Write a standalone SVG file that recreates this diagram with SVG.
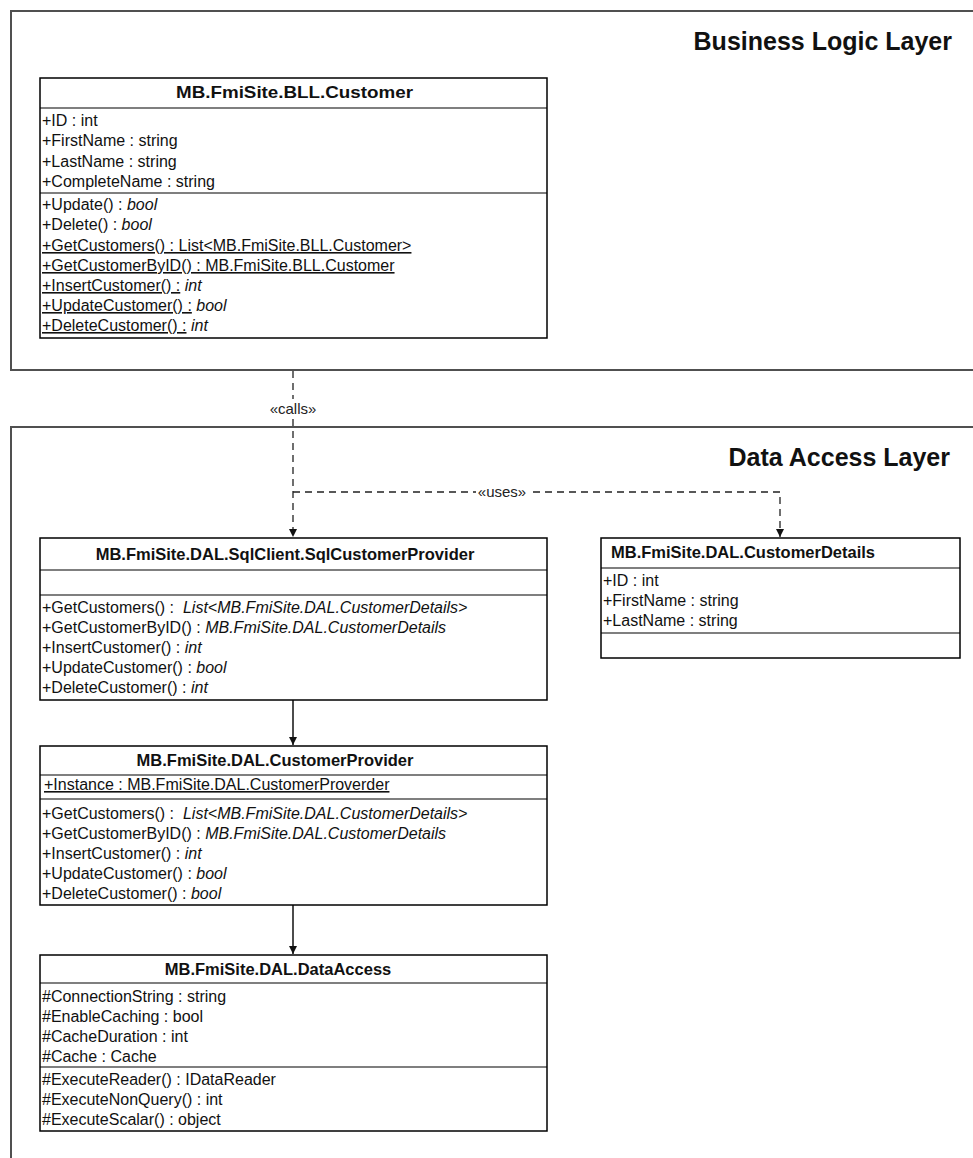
<svg xmlns="http://www.w3.org/2000/svg" width="973" height="1158" viewBox="0 0 973 1158">
<defs>
<style>
.frame{fill:none;stroke:#505050;stroke-width:2}
.box{fill:#fff;stroke:#000;stroke-width:1.5}
.sep{stroke:#000;stroke-width:1.2}
.t{font-family:"Liberation Sans",Arial,sans-serif;font-size:16px;fill:#111}
.h{font-weight:bold;font-size:16.5px;text-anchor:middle}
.hs{font-weight:bold;font-size:16.5px}
.i{font-style:italic}
.u{text-decoration:underline}
.layer{font-family:"Liberation Sans",Arial,sans-serif;font-size:25px;font-weight:bold;text-anchor:end;fill:#111}
.lbl{font-family:"Liberation Sans",Arial,sans-serif;font-size:15px;text-anchor:middle;fill:#222}
.dash{fill:none;stroke:#222;stroke-width:1.3;stroke-dasharray:7 5}
.solid{fill:none;stroke:#111;stroke-width:1.5}
</style>
<marker id="ah" viewBox="0 0 10 10" refX="10" refY="5" markerWidth="8" markerHeight="8" markerUnits="userSpaceOnUse" orient="auto">
<path d="M0,0 L10,5 L0,10 Z" fill="#111"/>
</marker>
</defs>
<rect width="973" height="1158" fill="#fff"/>

<g id="layer-bll">
<path class="frame" d="M980,11 H11 V370 H980"/>
<text class="layer" x="952" y="50">Business Logic Layer</text>
</g>
<g id="layer-dal">
<path class="frame" d="M980,427 H11 V1165"/>
<text class="layer" x="950" y="466">Data Access Layer</text>
</g>

<g id="connectors">
<line class="dash" x1="293" y1="371" x2="293" y2="537" marker-end="url(#ah)"/>
<path class="dash" d="M293,492 H780 V537" marker-end="url(#ah)"/>
<rect x="266" y="399" width="54" height="19" fill="#fff"/>
<text class="lbl" x="293" y="414">«calls»</text>
<rect x="476" y="484" width="52" height="16" fill="#fff"/>
<text class="lbl" x="502" y="497">«uses»</text>
<line class="solid" x1="293" y1="700" x2="293" y2="745" marker-end="url(#ah)"/>
<line class="solid" x1="293" y1="905" x2="293" y2="954" marker-end="url(#ah)"/>
</g>

<g id="bll-customer">
<rect class="box" x="40" y="78" width="507" height="260"/>
<line class="sep" x1="40" y1="108" x2="547" y2="108"/>
<line class="sep" x1="40" y1="193" x2="547" y2="193"/>
<text class="t hs" x="176" y="98" textLength="237" lengthAdjust="spacingAndGlyphs">MB.FmiSite.BLL.Customer</text>
<text class="t" x="42" y="126">+ID : int</text>
<text class="t" x="42" y="146">+FirstName : string</text>
<text class="t" x="42" y="167">+LastName : string</text>
<text class="t" x="42" y="187">+CompleteName : string</text>
<text class="t" x="42" y="210">+Update() : <tspan class="i">bool</tspan></text>
<text class="t" x="42" y="230">+Delete() : <tspan class="i">bool</tspan></text>
<text class="t u" x="42" y="251">+GetCustomers() : List&lt;MB.FmiSite.BLL.Customer&gt;</text>
<text class="t u" x="42" y="271">+GetCustomerByID() : MB.FmiSite.BLL.Customer</text>
<text class="t" x="42" y="291"><tspan class="u">+InsertCustomer() :</tspan> <tspan class="i">int</tspan></text>
<text class="t" x="42" y="311"><tspan class="u">+UpdateCustomer() :</tspan> <tspan class="i">bool</tspan></text>
<text class="t" x="42" y="331"><tspan class="u">+DeleteCustomer() :</tspan> <tspan class="i">int</tspan></text>
</g>

<g id="dal-sqlcustomerprovider">
<rect class="box" x="40" y="538" width="507" height="162"/>
<line class="sep" x1="40" y1="570" x2="547" y2="570"/>
<line class="sep" x1="40" y1="595" x2="547" y2="595"/>
<text class="t h" x="285" y="560">MB.FmiSite.DAL.SqlClient.SqlCustomerProvider</text>
<text class="t" x="42" y="613" xml:space="preserve">+GetCustomers() :  <tspan class="i">List&lt;MB.FmiSite.DAL.CustomerDetails&gt;</tspan></text>
<text class="t" x="42" y="633">+GetCustomerByID() : <tspan class="i">MB.FmiSite.DAL.CustomerDetails</tspan></text>
<text class="t" x="42" y="653">+InsertCustomer() : <tspan class="i">int</tspan></text>
<text class="t" x="42" y="673">+UpdateCustomer() : <tspan class="i">bool</tspan></text>
<text class="t" x="42" y="693">+DeleteCustomer() : <tspan class="i">int</tspan></text>
</g>

<g id="dal-customerdetails">
<rect class="box" x="601" y="538" width="359" height="120"/>
<line class="sep" x1="601" y1="568" x2="960" y2="568"/>
<line class="sep" x1="601" y1="633" x2="960" y2="633"/>
<text class="t hs" x="611" y="558">MB.FmiSite.DAL.CustomerDetails</text>
<text class="t" x="603" y="586">+ID : int</text>
<text class="t" x="603" y="606">+FirstName : string</text>
<text class="t" x="603" y="626">+LastName : string</text>
</g>

<g id="dal-customerprovider">
<rect class="box" x="40" y="746" width="507" height="159"/>
<line class="sep" x1="40" y1="775" x2="547" y2="775"/>
<line class="sep" x1="40" y1="799" x2="547" y2="799"/>
<text class="t h" x="275" y="766">MB.FmiSite.DAL.CustomerProvider</text>
<text class="t u" x="44" y="790">+Instance : MB.FmiSite.DAL.CustomerProverder</text>
<text class="t" x="42" y="819" xml:space="preserve">+GetCustomers() :  <tspan class="i">List&lt;MB.FmiSite.DAL.CustomerDetails&gt;</tspan></text>
<text class="t" x="42" y="839">+GetCustomerByID() : <tspan class="i">MB.FmiSite.DAL.CustomerDetails</tspan></text>
<text class="t" x="42" y="859">+InsertCustomer() : <tspan class="i">int</tspan></text>
<text class="t" x="42" y="879">+UpdateCustomer() : <tspan class="i">bool</tspan></text>
<text class="t" x="42" y="899">+DeleteCustomer() : <tspan class="i">bool</tspan></text>
</g>

<g id="dal-dataaccess">
<rect class="box" x="40" y="955" width="507" height="176"/>
<line class="sep" x1="40" y1="983" x2="547" y2="983"/>
<line class="sep" x1="40" y1="1067" x2="547" y2="1067"/>
<text class="t h" x="278" y="975">MB.FmiSite.DAL.DataAccess</text>
<text class="t" x="42" y="1002">#ConnectionString : string</text>
<text class="t" x="42" y="1022">#EnableCaching : bool</text>
<text class="t" x="42" y="1042">#CacheDuration : int</text>
<text class="t" x="42" y="1062">#Cache : Cache</text>
<text class="t" x="42" y="1085">#ExecuteReader() : IDataReader</text>
<text class="t" x="42" y="1105">#ExecuteNonQuery() : int</text>
<text class="t" x="42" y="1125">#ExecuteScalar() : object</text>
</g>
</svg>
